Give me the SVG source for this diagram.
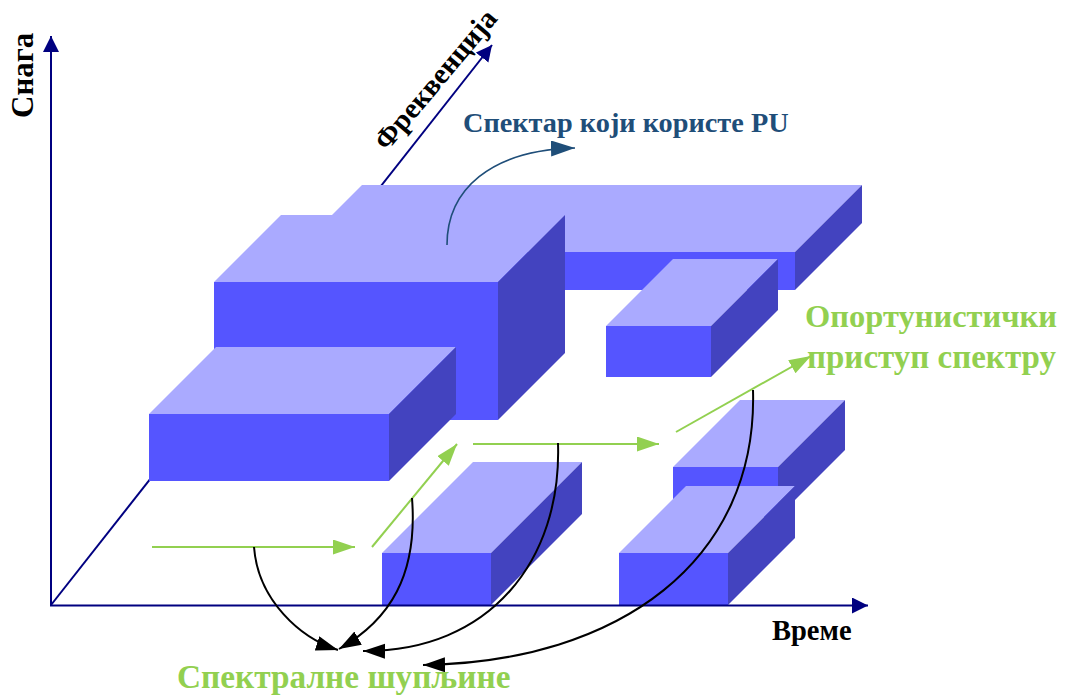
<svg xmlns="http://www.w3.org/2000/svg" width="1067" height="695" viewBox="0 0 1067 695">
  <style>
    .front { fill: #5555FF; }
    .top { fill: #AAAAFF; }
    .side { fill: #4343BF; }
    .axis { stroke: #000080; stroke-width: 2; fill: none; }
    .green { stroke: #92D050; stroke-width: 2; fill: none; }
    .black { stroke: #000000; stroke-width: 2; fill: none; }
    .blue { stroke: #1F4E79; stroke-width: 1.6; fill: none; }
    .lbl { font-family: "Liberation Serif", "Times New Roman", serif; font-weight: bold; }
    .ax { fill: #000000; }
    .g { fill: #92D050; }
  </style>
  <defs>
    <marker id="mGreen" markerUnits="userSpaceOnUse" markerWidth="24" markerHeight="16" refX="22" refY="7.5" orient="auto">
      <path d="M0,0 L22,7.5 L0,15 z" fill="#92D050"/>
    </marker>
    <marker id="mBlack" markerUnits="userSpaceOnUse" markerWidth="24" markerHeight="16" refX="22" refY="7.5" orient="auto">
      <path d="M0,0 L22,7.5 L0,15 z" fill="#000000"/>
    </marker>
    <marker id="mBlue" markerUnits="userSpaceOnUse" markerWidth="26" markerHeight="18" refX="24" refY="8" orient="auto">
      <path d="M0,0 L24,8 L0,16 z" fill="#1F4E79"/>
    </marker>
    <marker id="mAxis" markerUnits="userSpaceOnUse" markerWidth="18" markerHeight="18" refX="16" refY="8" orient="auto">
      <path d="M0,0 L16,8 L0,16 z" fill="#000080"/>
    </marker>
  </defs>

  <!-- frequency axis (runs behind the blocks) -->
  <g id="axis-frequency">
    <line class="axis" x1="51" y1="605" x2="492" y2="45" marker-end="url(#mAxis)"/>
  </g>

  <!-- spectrum blocks -->
  <g id="block-back">
    <rect class="front" x="295" y="252" width="500" height="38"/>
    <polygon class="top" points="295,252 362,185 862,185 795,252"/>
    <polygon class="side" points="795,252 862,185 862,223 795,290"/>
  </g>
  <g id="block-tall">
    <rect class="front" x="214" y="282" width="284" height="138"/>
    <polygon class="top" points="214,282 281,215 565,215 498,282"/>
    <polygon class="side" points="498,282 565,215 565,353 498,420"/>
  </g>
  <g id="block-left">
    <rect class="front" x="149" y="414" width="240" height="67"/>
    <polygon class="top" points="149,414 216,347 456,347 389,414"/>
    <polygon class="side" points="389,414 456,347 456,414 389,481"/>
  </g>
  <g id="block-mid-right">
    <rect class="front" x="606" y="326" width="105" height="51"/>
    <polygon class="top" points="606,326 673,259 778,259 711,326"/>
    <polygon class="side" points="711,326 778,259 778,310 711,377"/>
  </g>
  <g id="block-bottom-center">
    <rect class="front" x="382" y="553" width="109" height="52"/>
    <polygon class="top" points="382,553 473,462 582,462 491,553"/>
    <polygon class="side" points="491,553 582,462 582,514 491,605"/>
  </g>
  <g id="block-right-back">
    <rect class="front" x="673" y="467" width="105" height="50"/>
    <polygon class="top" points="673,467 740,400 845,400 778,467"/>
    <polygon class="side" points="778,467 845,400 845,450 778,517"/>
  </g>
  <g id="block-right-front">
    <rect class="front" x="619" y="553" width="109" height="52"/>
    <polygon class="top" points="619,553 686,486 795,486 728,553"/>
    <polygon class="side" points="728,553 795,486 795,538 728,605"/>
  </g>

  <!-- power and time axes -->
  <g id="axes">
    <line class="axis" x1="51" y1="606" x2="51" y2="36" marker-end="url(#mAxis)"/>
    <line class="axis" x1="50" y1="605.5" x2="868" y2="605.5" marker-end="url(#mAxis)"/>
  </g>

  <!-- connectors -->
  <g id="connectors">
    <!-- opportunistic access path -->
    <line class="green" x1="152" y1="547" x2="355" y2="547" marker-end="url(#mGreen)"/>
    <line class="green" x1="372" y1="547" x2="457" y2="444" marker-end="url(#mGreen)"/>
    <line class="green" x1="473" y1="444" x2="659" y2="444" marker-end="url(#mGreen)"/>
    <line class="green" x1="676" y1="432" x2="811" y2="356" marker-end="url(#mGreen)"/>
    <!-- spectrum holes -->
    <path class="black" d="M254,547 C258,600 300,638 338,650" marker-end="url(#mBlack)"/>
    <path class="black" d="M412,498 C418,575 390,620 339,649" marker-end="url(#mBlack)"/>
    <path class="black" d="M558,443 C562,560 490,652 363,651" marker-end="url(#mBlack)"/>
    <path class="black" d="M753,390 C758,560 620,662 423,665" marker-end="url(#mBlack)"/>
    <!-- primary users' spectrum -->
    <path class="blue" d="M447,245 C447,190 490,150 575,148" marker-end="url(#mBlue)"/>
  </g>

  <!-- labels -->
  <g id="label-power">
    <text class="lbl ax" font-size="31" transform="translate(33,118) rotate(-90)">Снага</text>
  </g>
  <g id="label-frequency">
    <text class="lbl ax" font-size="29" transform="translate(387,152) rotate(-50)">Фреквенција</text>
  </g>
  <g id="label-time">
    <text class="lbl ax" font-size="28.5" x="772" y="640">Време</text>
  </g>
  <g id="label-pu">
    <text class="lbl" font-size="28.3" fill="#1F4E79" x="463" y="132">Спектар који користе PU</text>
  </g>
  <g id="label-access">
    <text class="lbl g" font-size="32.5" x="805" y="327">Опортунистички</text>
    <text class="lbl g" font-size="33" x="807" y="368">приступ спектру</text>
  </g>
  <g id="label-holes">
    <text class="lbl g" font-size="33.3" x="177" y="688">Спектралне шупљине</text>
  </g>
</svg>
